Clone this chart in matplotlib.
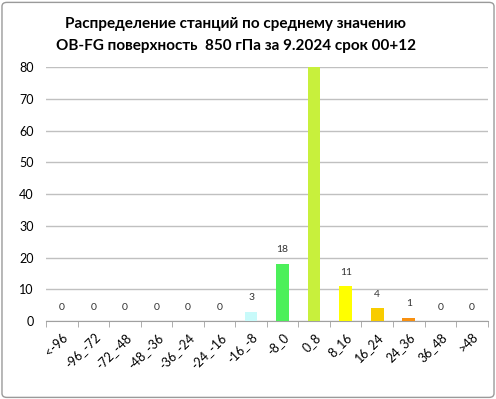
import matplotlib
matplotlib.use("Agg")
import matplotlib.pyplot as plt
from matplotlib.patches import FancyBboxPatch

plt.rcParams['font.family'] = ['Lato', 'DejaVu Sans']

categories = ['<-96', '-96_-72', '-72_-48', '-48_-36', '-36_-24', '-24_-16', '-16_-8',
              '-8_0', '0_8', '8_16', '16_24', '24_36', '36_48', '>48']
values = [0, 0, 0, 0, 0, 0, 3, 18, 80, 11, 4, 1, 0, 0]
colors = ['#c8fafa', '#c8fafa', '#c8fafa', '#c8fafa', '#c8fafa', '#c8fafa', '#c8fafa',
          '#4cf05a', '#c8f03c', '#ffff00', '#f8cc00', '#f89010', '#c8fafa', '#c8fafa']
title = "Распределение станций по среднему значению\nOB-FG поверхность  850 гПа за 9.2024 срок 00+12"

fig = plt.figure(figsize=(4.96, 3.99), dpi=100)
fig.patches.append(FancyBboxPatch((0.004, 0.004), 0.992, 0.99, boxstyle="round,pad=0,rounding_size=0.01",
                                  transform=fig.transFigure, fill=False, edgecolor='#9a9a9a', linewidth=1))
ax = fig.add_axes([0.093, 0.195, 0.89, 0.637])

x = list(range(len(categories)))
ax.bar(x, values, width=0.4, color=colors, zorder=3)
for xi, v in zip(x, values):
    if v < 80:
        ax.text(xi, v + 3, str(v), ha='center', va='bottom', fontsize=7.5, color='#333333')

ax.set_ylim(0, 80)
ax.set_xlim(-0.5, len(categories) - 0.5)
ax.set_yticks(range(0, 81, 10))
ax.yaxis.grid(True, color='#c0c0c0', linewidth=1, zorder=0)
ax.set_axisbelow(True)
ax.tick_params(axis='y', length=0, labelsize=9, pad=9)
ax.set_xticks(x)
ax.set_xticklabels(categories, rotation=45, ha='right', rotation_mode='anchor', fontsize=9)
ax.set_xticks([i + 0.5 for i in range(-1, len(categories))], minor=True)
ax.tick_params(axis='x', which='major', length=0, pad=7)
ax.tick_params(axis='x', which='minor', length=4, color='#a0a0a0')
for s in ['top', 'right', 'left']:
    ax.spines[s].set_visible(False)
ax.spines['bottom'].set_color('#a0a0a0')

fig.text(0.475, 0.912, title, ha='center', va='center', fontsize=11, fontweight='bold', linespacing=1.75)

fig.savefig('out.png', dpi=100)
